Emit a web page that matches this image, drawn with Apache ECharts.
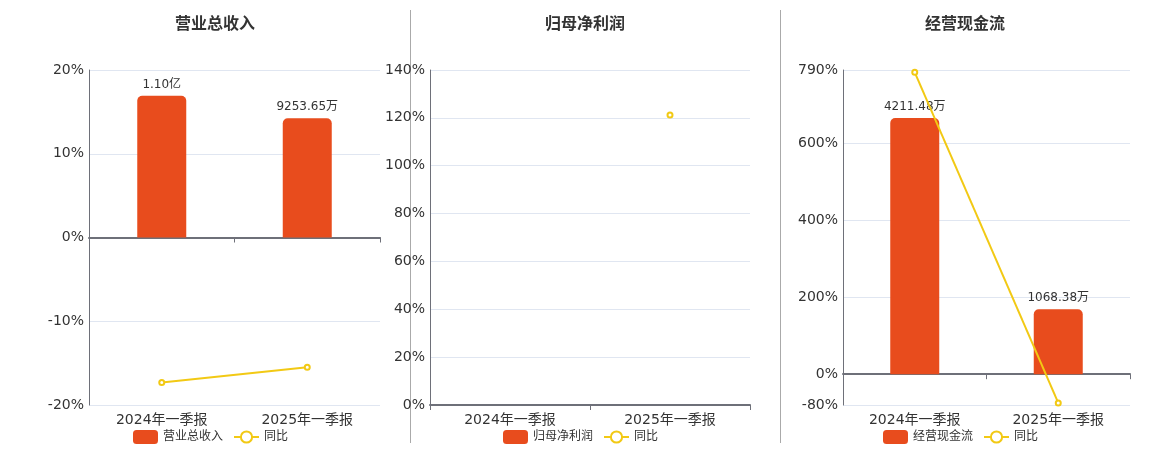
<!DOCTYPE html>
<html><head><meta charset="utf-8">
<script src="https://cdn.jsdelivr.net/npm/echarts@6/dist/echarts.min.js"></script>
<style>html,body{margin:0;padding:0;background:#fff}#c{width:1160px;height:450px}</style>
</head><body><div id="c"></div>
<script>
var categories = ['2024年一季报', '2025年一季报'];
var titles = ['营业总收入', '归母净利润', '经营现金流'];
// bar values in 万元
var revenue = [11000, 9253.65];
var netProfit = [null, null];
var cashFlow = [4211.48, 1068.38];
// year-over-year %
var revenueYoy = [-17.3, -15.5];
var netProfitYoy = [null, 121.2];
var cashFlowYoy = [784, -74.6];
// y-axis tick values (%)
var ticks1 = [-20, -10, 0, 10, 20];
var ticks2 = [0, 20, 40, 60, 80, 100, 120, 140];
var ticks3 = [-80, 0, 200, 400, 600, 790];

var FONT = 'DejaVu Sans, Noto Sans CJK SC, sans-serif';
var BAR = '#E84C1D', LINE = '#F2C914';
function fmtAmt(v){ if (v == null) return ''; return v >= 10000 ? (v/10000).toFixed(2)+'亿' : v.toFixed(2)+'万'; }

var grids = [
  {left: 89, top: 70, width: 291, height: 335},
  {left: 430, top: 70, width: 320, height: 335},
  {left: 843, top: 70, width: 287, height: 335}
];
var centers = [210, 580, 960];
var tickSets = [ticks1, ticks2, ticks3];
var barAxes = [
  {min: -13000, max: 13000},
  {min: 0, max: 100},
  {min: -5000*80/790, max: 5000}
];
var barData = [revenue, netProfit, cashFlow];
var yoyData = [revenueYoy, netProfitYoy, cashFlowYoy];

var option = {
  animation: false,
  textStyle: {fontFamily: FONT},
  title: [], legend: [], grid: grids, xAxis: [], yAxis: [], series: [],
  graphic: [
    {type: 'line', shape: {x1: 410.5, y1: 10, x2: 410.5, y2: 443}, style: {stroke: '#aaa', lineWidth: 1}},
    {type: 'line', shape: {x1: 780.5, y1: 10, x2: 780.5, y2: 443}, style: {stroke: '#aaa', lineWidth: 1}}
  ]
};
for (var i = 0; i < 3; i++) {
  var ts = tickSets[i];
  option.title.push({text: titles[i], left: centers[i], top: 12, textAlign: 'center',
    textStyle: {fontFamily: FONT, fontSize: 16, fontWeight: 'bold', color: '#333'}});
  option.legend.push({data: [titles[i], '同比'], left: centers[i] - 82, top: 425, orient: 'horizontal',
    align: 'left', itemWidth: 25, itemHeight: 14, itemGap: 10,
    textStyle: {fontFamily: FONT, fontSize: 12, color: '#333'}});
  option.xAxis.push({type: 'category', gridIndex: i, data: categories,
    axisLine: {onZero: true, lineStyle: {color: '#6E7079', width: 2}},
    axisTick: {show: true, lineStyle: {color: '#6E7079'}},
    axisLabel: {fontFamily: FONT, fontSize: 14, color: '#333', margin: 8}});
  option.yAxis.push({type: 'value', gridIndex: i, min: ts[0], max: ts[ts.length-1],
    axisLine: {show: true, lineStyle: {color: '#6E7079'}},
    axisTick: {show: false, customValues: ts},
    splitLine: {lineStyle: {color: '#E0E6F1'}},
    axisLabel: {fontFamily: FONT, fontSize: 14, color: '#333', margin: 5, customValues: ts, formatter: '{value}%'}});
  option.yAxis.push({type: 'value', gridIndex: i, min: barAxes[i].min, max: barAxes[i].max, show: false,
    splitLine: {show: false}});
  option.series.push({name: titles[i], type: 'bar', xAxisIndex: i, yAxisIndex: 2*i+1, data: barData[i],
    barWidth: 49, itemStyle: {color: BAR, borderRadius: [5,5,0,0]},
    label: {show: true, position: 'top', fontFamily: FONT, fontSize: 12, color: '#333',
      formatter: function(p){ return fmtAmt(p.value); }}});
  option.series.push({name: '同比', type: 'line', xAxisIndex: i, yAxisIndex: 2*i, data: yoyData[i],
    symbol: 'emptyCircle', symbolSize: 5, z: 5,
    lineStyle: {color: LINE, width: 2}, itemStyle: {color: LINE, borderWidth: 1.5}});
}
var chart = echarts.init(document.getElementById('c'), null, {renderer: 'canvas'});
chart.setOption(option);
</script></body></html>
